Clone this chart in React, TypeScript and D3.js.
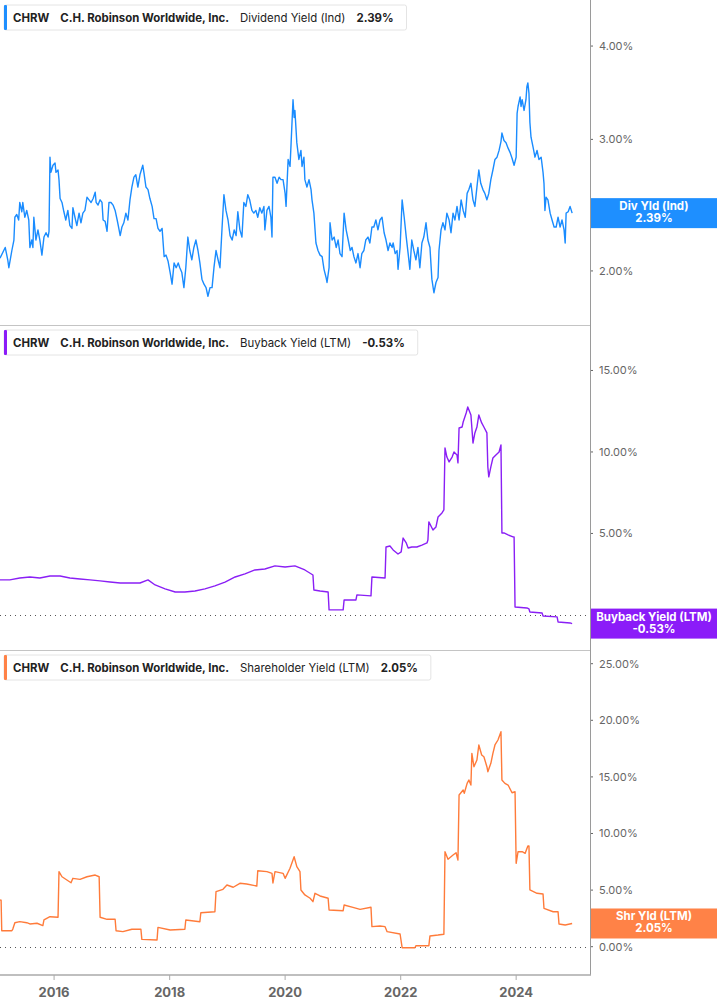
import * as d3 from "d3";
import React from "react";

type Point = [string, number];

const ticker = "CHRW";
const company = "C.H. Robinson Worldwide, Inc.";
const metricNames = ["Dividend Yield (Ind)", "Buyback Yield (LTM)", "Shareholder Yield (LTM)"];
const lastValues = ["2.39%", "-0.53%", "2.05%"];
const tagNames = ["Div Yld (Ind)", "Buyback Yield (LTM)", "Shr Yld (LTM)"];
const yearTicks = ["2016", "2018", "2020", "2022", "2024"];
const dividendTicks = [2, 3, 4];
const buybackTicks = [0, 5, 10, 15];
const shareholderTicks = [0, 5, 10, 15, 20, 25];

// dividend yield (indicated), %
const dividendYield: Point[] = [
  ["2015-01-24", 2.08], ["2015-02-26", 2.15], ["2015-03-14", 2.07], ["2015-03-21", 2.02], ["2015-04-09", 2.13],
  ["2015-04-22", 2.2], ["2015-04-28", 2.36], ["2015-05-10", 2.38], ["2015-05-22", 2.34], ["2015-05-29", 2.47],
  ["2015-06-11", 2.4], ["2015-06-17", 2.47], ["2015-06-30", 2.36], ["2015-07-12", 2.41], ["2015-07-25", 2.34],
  ["2015-08-01", 2.15], ["2015-08-13", 2.2], ["2015-08-20", 2.15], ["2015-08-26", 2.36], ["2015-09-08", 2.2],
  ["2015-09-21", 2.27], ["2015-10-03", 2.2], ["2015-10-16", 2.1], ["2015-10-29", 2.22], ["2015-11-11", 2.25],
  ["2015-11-24", 2.22], ["2015-11-30", 2.26], ["2015-12-06", 2.84], ["2015-12-12", 2.71], ["2015-12-25", 2.77],
  ["2016-01-07", 2.79], ["2016-01-13", 2.71], ["2016-01-26", 2.73], ["2016-02-01", 2.65], ["2016-02-08", 2.5],
  ["2016-02-20", 2.47], ["2016-03-03", 2.4], ["2016-03-15", 2.34], ["2016-03-28", 2.41], ["2016-04-10", 2.3],
  ["2016-04-23", 2.28], ["2016-04-29", 2.43], ["2016-05-12", 2.36], ["2016-05-24", 2.3], ["2016-06-07", 2.39],
  ["2016-06-19", 2.32], ["2016-07-01", 2.39], ["2016-07-14", 2.41], ["2016-07-27", 2.51], ["2016-08-09", 2.49],
  ["2016-08-22", 2.47], ["2016-09-04", 2.5], ["2016-09-17", 2.55], ["2016-09-23", 2.47], ["2016-10-05", 2.45],
  ["2016-10-18", 2.49], ["2016-10-30", 2.47], ["2016-11-06", 2.34], ["2016-11-19", 2.33], ["2016-12-01", 2.26],
  ["2016-12-13", 2.47], ["2016-12-26", 2.47], ["2017-01-08", 2.45], ["2017-01-21", 2.41], ["2017-02-03", 2.34],
  ["2017-02-10", 2.3], ["2017-02-22", 2.23], ["2017-03-05", 2.29], ["2017-03-17", 2.32], ["2017-03-30", 2.39],
  ["2017-04-12", 2.34], ["2017-04-25", 2.49], ["2017-05-07", 2.59], ["2017-05-20", 2.67], ["2017-06-01", 2.69],
  ["2017-06-14", 2.59], ["2017-06-27", 2.69], ["2017-07-15", 2.77], ["2017-07-22", 2.71], ["2017-08-04", 2.59],
  ["2017-08-17", 2.57], ["2017-08-29", 2.5], ["2017-09-12", 2.44], ["2017-09-24", 2.35], ["2017-10-07", 2.35],
  ["2017-10-19", 2.28], ["2017-11-01", 2.26], ["2017-11-14", 2.28], ["2017-11-27", 2.09], ["2017-12-09", 2.1],
  ["2017-12-22", 2.06], ["2018-01-04", 1.99], ["2018-01-16", 1.92], ["2018-01-29", 2.05], ["2018-02-11", 2.02],
  ["2018-02-24", 2.05], ["2018-03-06", 2.02], ["2018-03-19", 1.99], ["2018-04-01", 1.9], ["2018-04-13", 2.02],
  ["2018-04-26", 2.22], ["2018-05-08", 2.13], ["2018-05-21", 2.07], ["2018-06-03", 2.15], ["2018-06-16", 2.2],
  ["2018-06-29", 2.13], ["2018-07-11", 2.05], ["2018-07-24", 1.95], ["2018-08-06", 1.92], ["2018-08-19", 1.9],
  ["2018-08-31", 1.85], ["2018-09-13", 1.9], ["2018-09-26", 1.9], ["2018-10-08", 2.02], ["2018-10-21", 2.13],
  ["2018-11-03", 2.07], ["2018-11-15", 2.02], ["2018-11-28", 2.28], ["2018-12-10", 2.53], ["2018-12-23", 2.41],
  ["2019-01-05", 2.34], ["2019-01-18", 2.23], ["2019-01-31", 2.2], ["2019-02-13", 2.27], ["2019-02-25", 2.23],
  ["2019-03-08", 2.4], ["2019-03-21", 2.27], ["2019-04-03", 2.22], ["2019-04-15", 2.47], ["2019-04-28", 2.44],
  ["2019-05-10", 2.53], ["2019-05-22", 2.49], ["2019-06-05", 2.41], ["2019-06-17", 2.39], ["2019-06-30", 2.41],
  ["2019-07-12", 2.36], ["2019-07-25", 2.43], ["2019-08-07", 2.39], ["2019-08-20", 2.44], ["2019-08-26", 2.27],
  ["2019-09-08", 2.41], ["2019-09-21", 2.44], ["2019-10-03", 2.36], ["2019-10-10", 2.22], ["2019-10-16", 2.67],
  ["2019-10-29", 2.67], ["2019-11-11", 2.62], ["2019-11-24", 2.67], ["2019-12-06", 2.65], ["2019-12-19", 2.65],
  ["2020-01-01", 2.54], ["2020-01-07", 2.44], ["2020-01-20", 2.82], ["2020-02-01", 2.76], ["2020-02-08", 2.97],
  ["2020-02-20", 3.39], ["2020-02-27", 3.21], ["2020-03-03", 3.28], ["2020-03-15", 2.97], ["2020-03-28", 2.82],
  ["2020-04-10", 2.9], ["2020-04-17", 2.76], ["2020-04-29", 2.84], ["2020-05-05", 2.65], ["2020-05-18", 2.59],
  ["2020-05-31", 2.65], ["2020-06-13", 2.57], ["2020-06-19", 2.49], ["2020-07-01", 2.39], ["2020-07-14", 2.18],
  ["2020-07-27", 2.13], ["2020-08-09", 2.1], ["2020-08-22", 2.09], ["2020-09-03", 2.01], ["2020-09-16", 1.96],
  ["2020-09-22", 1.93], ["2020-10-05", 2.02], ["2020-10-11", 2.32], ["2020-10-24", 2.2], ["2020-11-06", 2.22],
  ["2020-11-19", 2.15], ["2020-12-01", 2.2], ["2020-12-13", 2.11], ["2020-12-26", 2.09], ["2021-01-08", 2.39],
  ["2021-01-21", 2.27], ["2021-02-03", 2.2], ["2021-02-16", 2.13], ["2021-02-27", 2.15], ["2021-03-11", 2.09],
  ["2021-03-24", 2.05], ["2021-04-06", 2.11], ["2021-04-19", 2.02], ["2021-04-30", 2.11], ["2021-05-13", 2.13],
  ["2021-05-25", 2.2], ["2021-06-08", 2.22], ["2021-06-20", 2.18], ["2021-07-03", 2.29], ["2021-07-15", 2.29],
  ["2021-07-28", 2.34], ["2021-08-10", 2.27], ["2021-08-23", 2.34], ["2021-09-05", 2.36], ["2021-09-18", 2.25],
  ["2021-09-30", 2.2], ["2021-10-13", 2.13], ["2021-10-25", 2.18], ["2021-11-08", 2.15], ["2021-11-14", 2.18],
  ["2021-11-27", 2.11], ["2021-12-09", 2.13], ["2021-12-15", 2.01], ["2021-12-28", 2.15], ["2022-01-10", 2.49],
  ["2022-01-23", 2.36], ["2022-02-05", 2.22], ["2022-02-17", 2.11], ["2022-02-28", 2.01], ["2022-03-12", 2.2],
  ["2022-03-25", 2.13], ["2022-04-07", 2.07], ["2022-04-20", 2.15], ["2022-05-02", 2.02], ["2022-05-15", 2.18],
  ["2022-05-27", 2.22], ["2022-06-10", 2.32], ["2022-06-22", 2.2], ["2022-07-05", 2.15], ["2022-07-17", 1.95],
  ["2022-07-30", 1.87], ["2022-08-12", 1.93], ["2022-08-25", 1.96], ["2022-08-31", 2.13], ["2022-09-13", 2.27],
  ["2022-09-25", 2.32], ["2022-10-08", 2.27], ["2022-10-20", 2.39], ["2022-11-03", 2.34], ["2022-11-15", 2.25],
  ["2022-11-28", 2.39], ["2022-12-10", 2.34], ["2022-12-23", 2.44], ["2023-01-05", 2.34], ["2023-01-18", 2.49],
  ["2023-01-31", 2.41], ["2023-02-13", 2.36], ["2023-02-25", 2.54], ["2023-03-08", 2.57], ["2023-03-21", 2.62],
  ["2023-04-03", 2.49], ["2023-04-15", 2.44], ["2023-04-28", 2.59], ["2023-05-10", 2.73], ["2023-05-22", 2.62],
  ["2023-06-05", 2.57], ["2023-06-17", 2.54], ["2023-06-30", 2.49], ["2023-07-12", 2.54], ["2023-07-25", 2.65],
  ["2023-08-07", 2.73], ["2023-08-20", 2.82], ["2023-09-02", 2.84], ["2023-09-15", 2.9], ["2023-09-27", 2.98],
  ["2023-10-03", 3.06], ["2023-10-16", 2.99], ["2023-10-29", 2.97], ["2023-11-11", 2.92], ["2023-11-24", 2.88],
  ["2023-12-06", 2.83], ["2023-12-19", 2.77], ["2024-01-01", 2.84], ["2024-01-07", 3.25], ["2024-01-13", 3.32],
  ["2024-01-26", 3.42], ["2024-02-01", 3.32], ["2024-02-08", 3.39], ["2024-02-20", 3.28], ["2024-03-03", 3.39],
  ["2024-03-09", 3.53], ["2024-03-15", 3.57], ["2024-03-22", 3.46], ["2024-03-28", 3.16], ["2024-04-04", 3.02],
  ["2024-04-17", 2.93], ["2024-04-29", 2.84], ["2024-05-12", 2.9], ["2024-05-24", 2.82], ["2024-06-07", 2.84],
  ["2024-06-19", 2.71], ["2024-06-25", 2.62], ["2024-07-01", 2.41], ["2024-07-08", 2.51], ["2024-07-20", 2.49],
  ["2024-08-03", 2.39], ["2024-08-15", 2.34], ["2024-08-28", 2.29], ["2024-09-10", 2.29], ["2024-09-22", 2.36],
  ["2024-10-05", 2.29], ["2024-10-17", 2.34], ["2024-10-30", 2.27], ["2024-11-06", 2.18], ["2024-11-12", 2.39],
  ["2024-11-25", 2.4], ["2024-12-07", 2.44], ["2024-12-20", 2.39],
];

// buyback yield (LTM), %
const buybackYield: Point[] = [
  ["2015-01-24", 2.15], ["2015-03-27", 2.15], ["2015-05-29", 2.27], ["2015-08-01", 2.33], ["2015-10-03", 2.27],
  ["2015-12-06", 2.39], ["2016-02-08", 2.39], ["2016-04-10", 2.27], ["2016-06-13", 2.21], ["2016-08-15", 2.15],
  ["2016-10-18", 2.09], ["2016-12-20", 2.02], ["2017-02-22", 1.96], ["2017-04-25", 1.96], ["2017-06-27", 1.96],
  ["2017-08-17", 2.15], ["2017-10-01", 1.84], ["2017-12-03", 1.6], ["2018-02-05", 1.41], ["2018-04-07", 1.41],
  ["2018-06-10", 1.47], ["2018-08-12", 1.6], ["2018-10-14", 1.78], ["2018-12-17", 2.02], ["2019-02-19", 2.33],
  ["2019-04-22", 2.52], ["2019-06-24", 2.76], ["2019-08-26", 2.82], ["2019-10-29", 3.01], ["2020-01-01", 2.94],
  ["2020-03-03", 3.01], ["2020-05-05", 2.76], ["2020-06-25", 2.45], ["2020-07-01", 1.53], ["2020-08-09", 1.47],
  ["2020-09-29", 1.41], ["2020-10-05", 0.31], ["2021-01-02", 0.31], ["2021-01-08", 0.92], ["2021-03-24", 0.92],
  ["2021-03-30", 1.23], ["2021-06-27", 1.17], ["2021-07-03", 2.33], ["2021-09-24", 2.27], ["2021-09-30", 4.17],
  ["2021-10-25", 4.23], ["2021-11-14", 3.99], ["2021-12-15", 3.74], ["2022-01-04", 3.87], ["2022-01-16", 4.72],
  ["2022-02-05", 4.42], ["2022-02-17", 4.11], ["2022-03-12", 4.17], ["2022-04-13", 4.17], ["2022-05-15", 4.29],
  ["2022-06-16", 4.42], ["2022-06-22", 4.6], ["2022-06-28", 5.71], ["2022-07-24", 5.21], ["2022-08-12", 5.4],
  ["2022-08-25", 6.01], ["2022-09-19", 6.26], ["2022-10-01", 6.44], ["2022-10-08", 10.25], ["2022-10-20", 9.69],
  ["2022-11-03", 9.39], ["2022-11-22", 9.69], ["2022-12-04", 10.0], ["2022-12-23", 9.82], ["2022-12-29", 9.33],
  ["2023-01-05", 11.47], ["2023-01-24", 11.53], ["2023-01-31", 11.84], ["2023-02-19", 12.39], ["2023-03-01", 12.76],
  ["2023-03-21", 12.27], ["2023-04-03", 10.55], ["2023-04-15", 11.17], ["2023-04-28", 11.53], ["2023-05-10", 12.27],
  ["2023-05-28", 11.78], ["2023-06-11", 11.53], ["2023-06-30", 11.17], ["2023-07-06", 9.08], ["2023-07-12", 8.47],
  ["2023-07-25", 9.08], ["2023-08-07", 9.63], ["2023-08-26", 9.82], ["2023-09-15", 10.0], ["2023-09-27", 10.43],
  ["2023-10-03", 5.03], ["2023-10-16", 5.03], ["2023-11-11", 4.91], ["2023-12-12", 4.79], ["2023-12-19", 4.79],
  ["2023-12-25", 0.49], ["2024-03-09", 0.43], ["2024-03-22", 0.37], ["2024-03-28", 0.18], ["2024-06-13", 0.12],
  ["2024-06-19", -0.06], ["2024-09-16", -0.12], ["2024-09-22", -0.43], ["2024-12-07", -0.49], ["2024-12-20", -0.53],
];

// shareholder yield (LTM), %
const shareholderYield: Point[] = [
  ["2015-01-24", 4.13], ["2015-01-31", 4.1], ["2015-02-04", 1.41], ["2015-04-09", 1.41], ["2015-04-15", 1.56],
  ["2015-04-28", 2.12], ["2015-05-29", 2.21], ["2015-07-12", 2.12], ["2015-08-01", 2.01], ["2015-09-15", 2.07],
  ["2015-10-22", 1.86], ["2015-10-29", 2.36], ["2015-12-06", 2.65], ["2016-01-26", 2.6], ["2016-02-01", 6.63],
  ["2016-02-20", 6.18], ["2016-03-22", 5.89], ["2016-04-17", 5.65], ["2016-04-29", 6.04], ["2016-06-13", 5.95],
  ["2016-07-27", 6.18], ["2016-09-17", 6.33], ["2016-10-12", 6.18], ["2016-10-18", 2.6], ["2016-12-01", 2.42],
  ["2017-01-21", 2.42], ["2017-01-27", 1.41], ["2017-03-11", 1.33], ["2017-05-07", 1.54], ["2017-07-03", 1.54],
  ["2017-07-09", 0.65], ["2017-10-13", 0.59], ["2017-10-19", 1.71], ["2018-01-04", 1.48], ["2018-04-07", 1.54],
  ["2018-04-13", 2.36], ["2018-07-11", 2.21], ["2018-07-17", 3.0], ["2018-10-14", 3.09], ["2018-10-21", 4.86],
  ["2018-12-04", 5.07], ["2018-12-29", 5.45], ["2019-02-07", 5.25], ["2019-03-21", 5.6], ["2019-05-03", 5.54],
  ["2019-07-06", 5.36], ["2019-07-12", 6.71], ["2019-09-08", 6.63], ["2019-10-10", 6.48], ["2019-10-16", 5.63],
  ["2019-10-29", 6.63], ["2019-12-19", 6.48], ["2020-01-01", 6.04], ["2020-02-01", 6.93], ["2020-02-27", 7.95],
  ["2020-03-15", 7.07], ["2020-04-04", 6.63], ["2020-04-10", 5.01], ["2020-05-05", 4.57], ["2020-06-07", 4.28],
  ["2020-06-25", 3.98], ["2020-07-08", 4.72], ["2020-08-09", 4.48], ["2020-09-29", 4.28], ["2020-10-05", 3.24],
  ["2021-01-02", 3.18], ["2021-01-08", 3.68], ["2021-03-05", 3.48], ["2021-04-19", 3.3], ["2021-06-27", 3.48],
  ["2021-07-03", 1.77], ["2021-08-23", 1.83], ["2021-09-24", 1.77], ["2021-10-07", 1.33], ["2021-12-28", 1.12],
  ["2022-01-10", -0.09], ["2022-04-01", -0.09], ["2022-04-07", 0.09], ["2022-06-28", 0.09], ["2022-07-05", 0.95],
  ["2022-08-25", 1.03], ["2022-10-01", 1.1], ["2022-10-08", 8.39], ["2022-10-27", 7.72], ["2022-11-28", 8.1],
  ["2022-12-17", 8.3], ["2022-12-29", 7.66], ["2023-01-05", 13.4], ["2023-01-31", 13.84], ["2023-02-07", 13.55],
  ["2023-02-25", 14.43], ["2023-03-08", 14.73], ["2023-03-21", 14.28], ["2023-03-27", 17.08], ["2023-04-09", 15.9],
  ["2023-04-28", 16.49], ["2023-05-10", 17.82], ["2023-05-28", 16.93], ["2023-06-11", 16.78], ["2023-06-30", 15.9],
  ["2023-07-06", 15.46], ["2023-07-25", 16.2], ["2023-08-07", 17.08], ["2023-08-20", 17.82], ["2023-09-08", 18.26],
  ["2023-09-27", 18.99], ["2023-10-03", 14.73], ["2023-10-22", 14.43], ["2023-11-11", 14.28], ["2023-12-06", 13.6],
  ["2023-12-25", 13.69], ["2024-01-01", 7.37], ["2024-01-13", 8.39], ["2024-02-08", 8.39], ["2024-02-27", 8.25],
  ["2024-03-15", 8.9], ["2024-03-22", 8.9], ["2024-03-28", 5.01], ["2024-05-12", 4.72], ["2024-06-19", 4.66],
  ["2024-06-25", 3.39], ["2024-08-22", 3.09], ["2024-09-22", 3.09], ["2024-09-28", 2.01], ["2024-11-06", 1.92],
  ["2024-12-20", 2.05],
];

export default function App() {
  const ref = React.useRef<SVGSVGElement>(null);

  React.useEffect(() => {
    if (!ref.current) return;
    const svg = d3.select(ref.current);
    svg.selectAll("*").remove();

    const plotW = 590;
    const parse = d3.timeParse("%Y-%m-%d");
    const x = d3
      .scaleTime()
      .domain([new Date(2015, 0, 24), new Date(2025, 3, 12)])
      .range([0, plotW]);

    const panels = [
      {
        data: dividendYield,
        top: 0,
        bottom: 325,
        y: d3.scaleLog().domain([1.693, 4.61]).range([325, 0]),
        ticks: dividendTicks,
        line: "#1a8cff",
        tag: "#1e8fff",
        zero: false,
      },
      {
        data: buybackYield,
        top: 325,
        bottom: 650,
        y: d3.scaleLinear().domain([-2.15, 17.79]).range([650, 325]),
        ticks: buybackTicks,
        line: "#8a1ff5",
        tag: "#8b1cf8",
        zero: true,
      },
      {
        data: shareholderYield,
        top: 650,
        bottom: 975,
        y: d3.scaleLinear().domain([-2.5, 26.21]).range([975, 650]),
        ticks: shareholderTicks,
        line: "#ff7b3a",
        tag: "#ff8247",
        zero: true,
      },
    ];

    panels.forEach((p, i) => {
      const clipId = `clip-${i}`;
      svg
        .append("clipPath")
        .attr("id", clipId)
        .append("rect")
        .attr("x", 0)
        .attr("y", p.top)
        .attr("width", plotW)
        .attr("height", p.bottom - p.top);

      // 区切り線
      if (i > 0) {
        svg
          .append("line")
          .attr("x1", 0)
          .attr("x2", plotW)
          .attr("y1", p.top + 0.5)
          .attr("y2", p.top + 0.5)
          .attr("stroke", "#c4c4c4");
      }

      if (p.zero) {
        svg
          .append("line")
          .attr("x1", 0)
          .attr("x2", plotW)
          .attr("y1", Math.round(p.y(0)) + 0.5)
          .attr("y2", Math.round(p.y(0)) + 0.5)
          .attr("stroke", "#555")
          .attr("stroke-dasharray", "1 4");
      }

      const line = d3
        .line<Point>()
        .x((d) => x(parse(d[0]) as Date))
        .y((d) => p.y(d[1]));

      svg
        .append("path")
        .datum(p.data)
        .attr("clip-path", `url(#${clipId})`)
        .attr("d", line)
        .attr("fill", "none")
        .attr("stroke", p.line)
        .attr("stroke-width", 1.4)
        .attr("stroke-linejoin", "round");

      // ヘッダー
      const header = svg.append("g").attr("transform", `translate(4,${p.top + 5})`);
      const box = header
        .append("rect")
        .attr("height", 25)
        .attr("rx", 2)
        .attr("fill", "#fff")
        .attr("stroke", "#e4e4e4");
      header.append("rect").attr("width", 3).attr("height", 25).attr("rx", 1).attr("fill", p.tag);
      const parts = [
        { t: ticker, w: 700 },
        { t: company, w: 700 },
        { t: metricNames[i], w: 400 },
        { t: lastValues[i], w: 700 },
      ];
      let cx = 9;
      parts.forEach((part) => {
        const t = header
          .append("text")
          .attr("x", cx)
          .attr("y", 16.5)
          .attr("font-size", 11.4)
          .attr("font-weight", part.w)
          .attr("fill", "#222")
          .text(part.t);
        cx += (t.node() as SVGTextElement).getComputedTextLength() + 11;
      });
      box.attr("width", cx - 11 + 13);

      // 右軸
      p.ticks.forEach((t) => {
        const ty = p.y(t);
        svg
          .append("line")
          .attr("x1", plotW)
          .attr("x2", plotW + 3)
          .attr("y1", ty)
          .attr("y2", ty)
          .attr("stroke", "#666");
        svg
          .append("text")
          .attr("x", plotW + 9)
          .attr("y", ty + 4)
          .attr("font-size", 11)
          .attr("fill", "#666")
          .text(`${t.toFixed(2)}%`);
      });

      // 最終値タグ
      const last = p.data[p.data.length - 1];
      const ly = p.y(last[1]);
      svg
        .append("rect")
        .attr("x", plotW)
        .attr("y", ly - 15)
        .attr("width", 717 - plotW)
        .attr("height", 30)
        .attr("fill", p.tag);
      svg
        .append("text")
        .attr("x", 654)
        .attr("y", ly - 3)
        .attr("text-anchor", "middle")
        .attr("font-size", 11.5)
        .attr("font-weight", 700)
        .attr("fill", "#fff")
        .text(tagNames[i]);
      svg
        .append("text")
        .attr("x", 654)
        .attr("y", ly + 9)
        .attr("text-anchor", "middle")
        .attr("font-size", 11.5)
        .attr("font-weight", 700)
        .attr("fill", "#fff")
        .text(lastValues[i]);
    });

    // 縦軸線
    svg
      .append("line")
      .attr("x1", plotW + 0.5)
      .attr("x2", plotW + 0.5)
      .attr("y1", 0)
      .attr("y2", 975)
      .attr("stroke", "#9a9a9a");

    // X軸
    svg
      .append("line")
      .attr("x1", 0)
      .attr("x2", plotW + 1)
      .attr("y1", 975)
      .attr("y2", 975)
      .attr("stroke", "#aaa")
      .attr("stroke-width", 1.5);
    yearTicks.forEach((yr) => {
      const tx = x(new Date(+yr, 0, 1));
      svg
        .append("line")
        .attr("x1", tx)
        .attr("x2", tx)
        .attr("y1", 975)
        .attr("y2", 980)
        .attr("stroke", "#aaa");
      svg
        .append("text")
        .attr("x", tx)
        .attr("y", 997)
        .attr("text-anchor", "middle")
        .attr("font-size", 13)
        .attr("font-weight", 700)
        .attr("fill", "#666")
        .text(yr);
    });

    return () => {
      svg.selectAll("*").remove();
    };
  }, []);

  return (
    <svg
      ref={ref}
      width={717}
      height={1005}
      style={{ position: "absolute", left: 0, top: 0, fontFamily: "Inter, 'Noto Sans', sans-serif", background: "#fff" }}
    />
  );
}
